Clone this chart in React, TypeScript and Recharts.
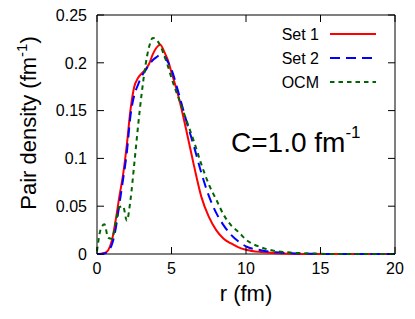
import React from 'react';
import { LineChart, Line, XAxis, YAxis, ReferenceArea, Label } from 'recharts';

// r (fm) sample points, shared by all three curves
const rValues = [
  0, 0.25, 0.5, 0.75, 1, 1.25, 1.5, 1.75, 2, 2.25, 2.5, 2.75, 3, 3.25, 3.5, 3.75,
  4, 4.25, 4.5, 4.75, 5, 5.5, 6, 6.5, 7, 7.5, 8, 8.5, 9, 9.5, 10, 11, 12, 13, 14,
  15, 16, 18, 20,
];
const set1 = [
  0, 0.0003, 0.001, 0.004, 0.014, 0.035, 0.06, 0.083, 0.114, 0.151, 0.175, 0.184,
  0.189, 0.193, 0.199, 0.209, 0.216, 0.219, 0.212, 0.203, 0.19, 0.163, 0.129,
  0.093, 0.06, 0.039, 0.025, 0.016, 0.011, 0.007, 0.0045, 0.002, 0.0008, 0.0003,
  0.0001, 0, 0, 0, 0,
];
const set2 = [
  0, 0, 0.0005, 0.003, 0.01, 0.026, 0.052, 0.078, 0.106, 0.145, 0.166, 0.177,
  0.186, 0.192, 0.198, 0.203, 0.206, 0.208, 0.207, 0.201, 0.193, 0.167, 0.139,
  0.113, 0.085, 0.061, 0.043, 0.03, 0.02, 0.013, 0.008, 0.004, 0.0018, 0.0008,
  0.0003, 0.0001, 0, 0, 0,
];
const ocm = [
  0.003, 0.026, 0.031, 0.017, 0.016, 0.032, 0.049, 0.05, 0.035, 0.057, 0.094,
  0.133, 0.168, 0.197, 0.217, 0.226, 0.224, 0.218, 0.208, 0.197, 0.184, 0.162,
  0.14, 0.118, 0.094, 0.073, 0.057, 0.041, 0.03, 0.023, 0.015, 0.007, 0.003,
  0.0015, 0.0007, 0.0002, 0, 0, 0,
];
const xTicks = [0, 5, 10, 15, 20];
const yTicks = [0, 0.05, 0.1, 0.15, 0.2, 0.25];

const data = rValues.map((r, i) => ({ r, set1: set1[i], set2: set2[i], ocm: ocm[i] }));

const series = [
  { key: 'set1', name: 'Set 1', color: '#ff0000', dash: undefined },
  { key: 'set2', name: 'Set 2', color: '#0000ff', dash: '10 6' },
  { key: 'ocm', name: 'OCM', color: '#006400', dash: '4.5 4' },
];

const FONT = '"Liberation Sans", Arial, sans-serif';
const W = 415;
const H = 319;
const PLOT = { left: 97, right: 395, top: 15, bottom: 254 };
const TICK = 7;

const XTick = (props: any) => {
  const { x, y, payload } = props;
  return (
    <g>
      <line x1={x} y1={y} x2={x} y2={y - TICK} stroke="#000" />
      <line x1={x} y1={PLOT.top} x2={x} y2={PLOT.top + TICK} stroke="#000" />
      <text x={x} y={y + 20} textAnchor="middle" fontSize={16} fontFamily={FONT} fill="#000">
        {payload.value}
      </text>
    </g>
  );
};

const YTick = (props: any) => {
  const { x, y, payload } = props;
  return (
    <g>
      <line x1={x} y1={y} x2={x + TICK} y2={y} stroke="#000" />
      <line x1={PLOT.right} y1={y} x2={PLOT.right - TICK} y2={y} stroke="#000" />
      <text x={x - 10} y={y} dy="0.36em" textAnchor="end" fontSize={16} fontFamily={FONT} fill="#000">
        {String(payload.value)}
      </text>
    </g>
  );
};

const YLabel = () => (
  <text transform="translate(36,123) rotate(-90)" textAnchor="middle" fontSize={22} fontFamily={FONT} fill="#000">
    Pair density (fm
    <tspan fontSize={15} dy={-9}>-1</tspan>
    <tspan dy={9}>)</tspan>
  </text>
);

const XLabel = () => (
  <text x={(PLOT.left + PLOT.right) / 2} y={301} textAnchor="middle" fontSize={22} fontFamily={FONT} fill="#000">
    r (fm)
  </text>
);

export default function App() {
  return (
    <div style={{ position: 'absolute', left: 0, top: 0, width: W, height: H, background: '#fff' }}>
      <LineChart
        width={W}
        height={H}
        data={data}
        margin={{ top: PLOT.top, right: W - PLOT.right, left: PLOT.left - 60, bottom: H - PLOT.bottom - 40 }}
      >
        <XAxis
          dataKey="r"
          type="number"
          domain={[0, 20]}
          ticks={xTicks}
          interval={0}
          height={40}
          tickSize={0}
          tickMargin={0}
          axisLine={false}
          tick={<XTick />}
        >
          <Label content={<XLabel />} />
        </XAxis>
        <YAxis
          type="number"
          domain={[0, 0.25]}
          ticks={yTicks}
          interval={0}
          width={60}
          tickSize={0}
          tickMargin={0}
          axisLine={false}
          tick={<YTick />}
        >
          <Label content={<YLabel />} />
        </YAxis>
        <ReferenceArea x1={0} x2={20} y1={0} y2={0.25} fill="none" stroke="#000" strokeWidth={1} />
        {series.map((s) => (
          <Line
            key={s.key}
            dataKey={s.key}
            name={s.name}
            type="monotone"
            stroke={s.color}
            strokeWidth={2}
            strokeDasharray={s.dash}
            dot={false}
            activeDot={false}
            isAnimationActive={false}
          />
        ))}
        <g fontFamily={FONT}>
          {series.map((s, i) => (
            <g key={s.key}>
              <text x={319} y={40 + i * 24} textAnchor="end" fontSize={16} fill="#000">
                {s.name}
              </text>
              <line x1={330} y1={34 + i * 24} x2={376} y2={34 + i * 24} stroke={s.color} strokeWidth={2} strokeDasharray={s.dash} />
            </g>
          ))}
          <text x={231} y={152} fontSize={28} fill="#000">
            C=1.0 fm
            <tspan fontSize={17} dy={-14}>-1</tspan>
          </text>
        </g>
      </LineChart>
    </div>
  );
}
